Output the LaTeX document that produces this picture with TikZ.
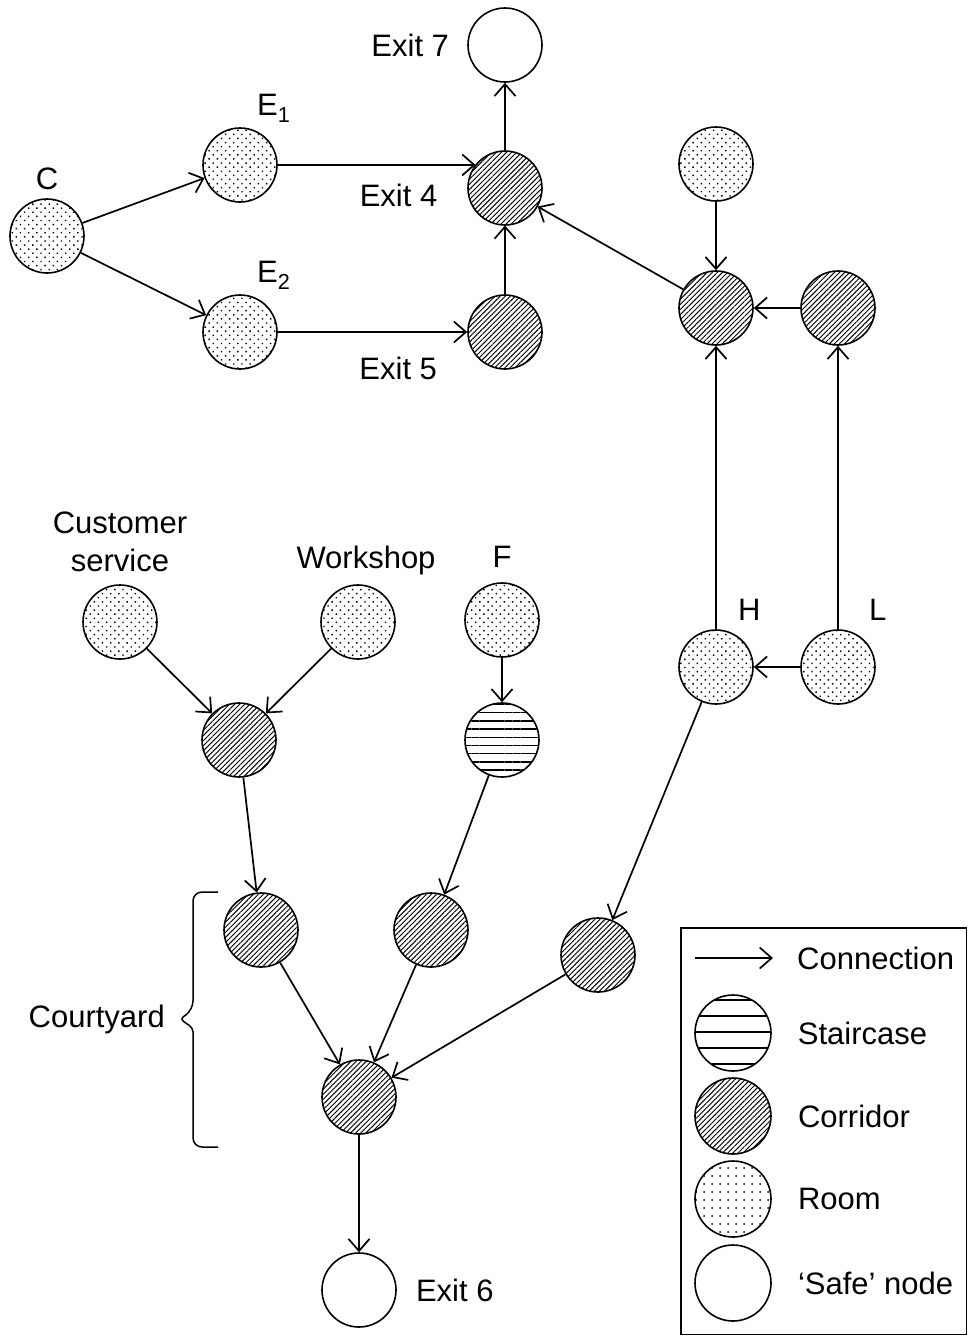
\documentclass[tikz,border=0pt]{standalone}
\usepackage{fontspec}
\setmainfont{Liberation Sans}
\usetikzlibrary{positioning, arrows.meta, patterns.meta}
\tikzset{
  place/.style    ={circle, draw, line width=1.6pt, minimum size=74pt,
                    inner sep=0pt},
  room/.style     ={place, pattern={Dots[angle=45, distance=5.8pt,
                    radius=1pt]}},
  corridor/.style ={place, pattern={Lines[angle=45, distance=3.6pt,
                    line width=0.95pt]}},
  stair/.style    ={place, pattern={Lines[angle=0, distance=8.2pt,
                    line width=1.4pt]}},
  safe/.style     ={place, fill=white},
  lbl/.style      ={inner sep=0pt, align=center,
                    font=\fontsize{31}{38}\selectfont},
  conn/.style     ={-{Straight Barb[length=12pt, width=21pt]}, line width=1.7pt},
}

\begin{document}
\begin{tikzpicture}[x=1pt, y=-1pt]
  \useasboundingbox (0,0) rectangle (968,1336);

  % ---- upper part: C, E1, E2 and exits 4, 5, 7
  \node[room]     (C)     at (47,236)  {};
  \node[room]     (E1)    at (240,165) {};
  \node[room]     (E2)    at (240,332) {};
  \node[corridor] (Exit4) at (505,188) {};
  \node[corridor] (Exit5) at (505,332) {};
  \node[safe]     (Exit7) at (505,45)  {};

  \node[lbl, above=8pt of C] (lC) {C};
  \node[lbl, above right=5pt and 17pt of E1.north] (lE1) {E\textsubscript{1}};
  \node[lbl, above right=5pt and 17pt of E2.north] (lE2) {E\textsubscript{2}};
  \node[lbl, left=30pt of Exit4, yshift=-7pt] (lExit4) {Exit 4};
  \node[lbl, below left=25pt and 30pt of Exit5.west] (lExit5) {Exit 5};
  \node[lbl, left=18pt of Exit7] (lExit7) {Exit 7};

  % ---- right column
  \node[room]     (TopRm) at (716,164) {};
  \node[corridor] (Hub)   at (716,308) {};
  \node[corridor] (RCorr) at (838,308) {};
  \node[room]     (H)     at (716,667) {};
  \node[room]     (L)     at (838,667) {};

  \node[lbl, above right=9pt and 22pt of H.north] (lH) {H};
  \node[lbl, above right=9pt and 31pt of L.north] (lL) {L};

  % ---- lower part: courtyard
  \node[room]     (CustSrv)  at (120,622) {};
  \node[room]     (Workshop) at (358,622) {};
  \node[room]     (F)        at (502,620) {};
  \node[corridor] (Join)     at (239,740) {};
  \node[stair]    (Stairs)   at (502,740) {};
  \node[corridor] (Cy1)      at (261,930) {};
  \node[corridor] (Cy2)      at (431,930) {};
  \node[corridor] (Cy3)      at (598,955) {};
  \node[corridor] (CyHub)    at (359,1097) {};
  \node[safe]     (Exit6)    at (359,1290) {};

  \node[lbl, above=12pt of CustSrv] (lCust) {Customer\\service};
  \node[lbl, above=9pt of Workshop, xshift=8pt] (lWork) {Workshop};
  \node[lbl, above=15pt of F] (lF) {F};
  \node[lbl, right=19pt of Exit6] (lExit6) {Exit 6};

  % courtyard bracket
  \coordinate (ctTop) at (218,892);
  \coordinate (ctBot) at (218,1147);
  \coordinate (ctTip) at (180,1019);
  \draw[line width=1.5pt, rounded corners=9pt]
    (ctTop) -- (193,892) -- (193,1010) [rounded corners=4pt] -- (ctTip)
    -- (193,1028) [rounded corners=9pt] -- (193,1147) -- (ctBot);
  \node[lbl, left=15pt of ctTip] (lCourt) {Courtyard};

  % ---- connections
  \draw[conn] (C) -- (E1);
  \draw[conn] (C) -- (E2);
  \draw[conn] (E1.east) -- (Exit4.142);
  \draw[conn] (E2) -- (Exit5);
  \draw[conn] (Exit5) -- (Exit4);
  \draw[conn] (Exit4) -- (Exit7);
  \draw[conn] (TopRm) -- (Hub);
  \draw[conn] (Hub) -- (Exit4);
  \draw[conn] (RCorr) -- (Hub);
  \draw[conn] (H) -- (Hub);
  \draw[conn] (L) -- (RCorr);
  \draw[conn] (L) -- (H);
  \draw[conn] (H) -- (Cy3);
  \draw[conn] (CustSrv) -- (Join);
  \draw[conn] (Workshop) -- (Join);
  \draw[conn] (F) -- (Stairs);
  \draw[conn] (Join) -- (Cy1);
  \draw[conn] (Stairs) -- (Cy2);
  \draw[conn] (Cy1) -- (CyHub);
  \draw[conn] (Cy2) -- (CyHub);
  \draw[conn] (Cy3) -- (CyHub);
  \draw[conn] (CyHub) -- (Exit6);

  % ---- legend
  \draw[line width=1.6pt] (681,928) rectangle (966.5,1334.5);
  \coordinate (lgA) at (695,958);
  \coordinate (lgB) at (773,958);
  \draw[conn] (lgA) -- (lgB);
  \node[lbl, right=24pt of lgB] (tConn) {Connection};

  \node[place, minimum size=76pt, pattern={Lines[angle=0, distance=16pt,
        line width=1.4pt]}] (lgStair) at (733,1033) {};
  \node[corridor, minimum size=76pt] (lgCorr) at (733,1116) {};
  \node[place, minimum size=76pt, pattern={Dots[distance=8pt,
        radius=1pt]}] (lgRoom) at (733,1199) {};
  \node[safe, minimum size=76pt]     (lgSafe) at (733,1283) {};

  \node[lbl, right=26pt of lgStair] (tStair) {Staircase};
  \node[lbl, right=26pt of lgCorr]  (tCorr)  {Corridor};
  \node[lbl, right=26pt of lgRoom]  (tRoom)  {Room};
  \node[lbl, right=26pt of lgSafe]  (tSafe)  {`Safe' node};
\end{tikzpicture}
\end{document}
